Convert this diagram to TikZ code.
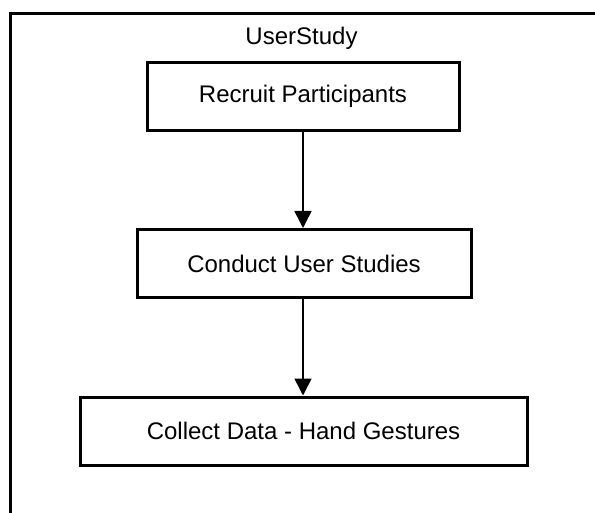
\documentclass[tikz,border=0pt]{standalone}
\usepackage{fontspec}
\setmainfont{Liberation Sans}
\usetikzlibrary{arrows.meta}
\begin{document}
\begin{tikzpicture}[x=1pt,y=-1pt,
  lbl/.style={font=\fontsize{24}{28}\selectfont},
  stepbox/.style={lbl, draw, line width=3pt, rectangle, minimum height=68pt, inner sep=0pt},
  flow/.style={line width=1.5pt, -{Triangle[width=17pt,length=17pt]}}]
\useasboundingbox (0,0) rectangle (595,513);
\clip (0,0) rectangle (595,513);
\draw[line width=3pt] (10.5,520) -- (10.5,13.5) -- (600,13.5);
\node[lbl] (title) at (301.5,38) {UserStudy};
\node[stepbox, minimum width=312pt] (a) at (303,96.5) {Recruit Participants};
\node[stepbox, minimum width=334pt] (b) at (304,263.5) {Conduct User Studies};
\node[stepbox, minimum width=447pt] (c) at (303.5,431) {Collect Data - Hand Gestures};
\draw[flow] (a.south -| 303,0) -- (b.north -| 303,0);
\draw[flow] (b.south -| 303,0) -- (c.north -| 303,0);
\end{tikzpicture}
\end{document}
